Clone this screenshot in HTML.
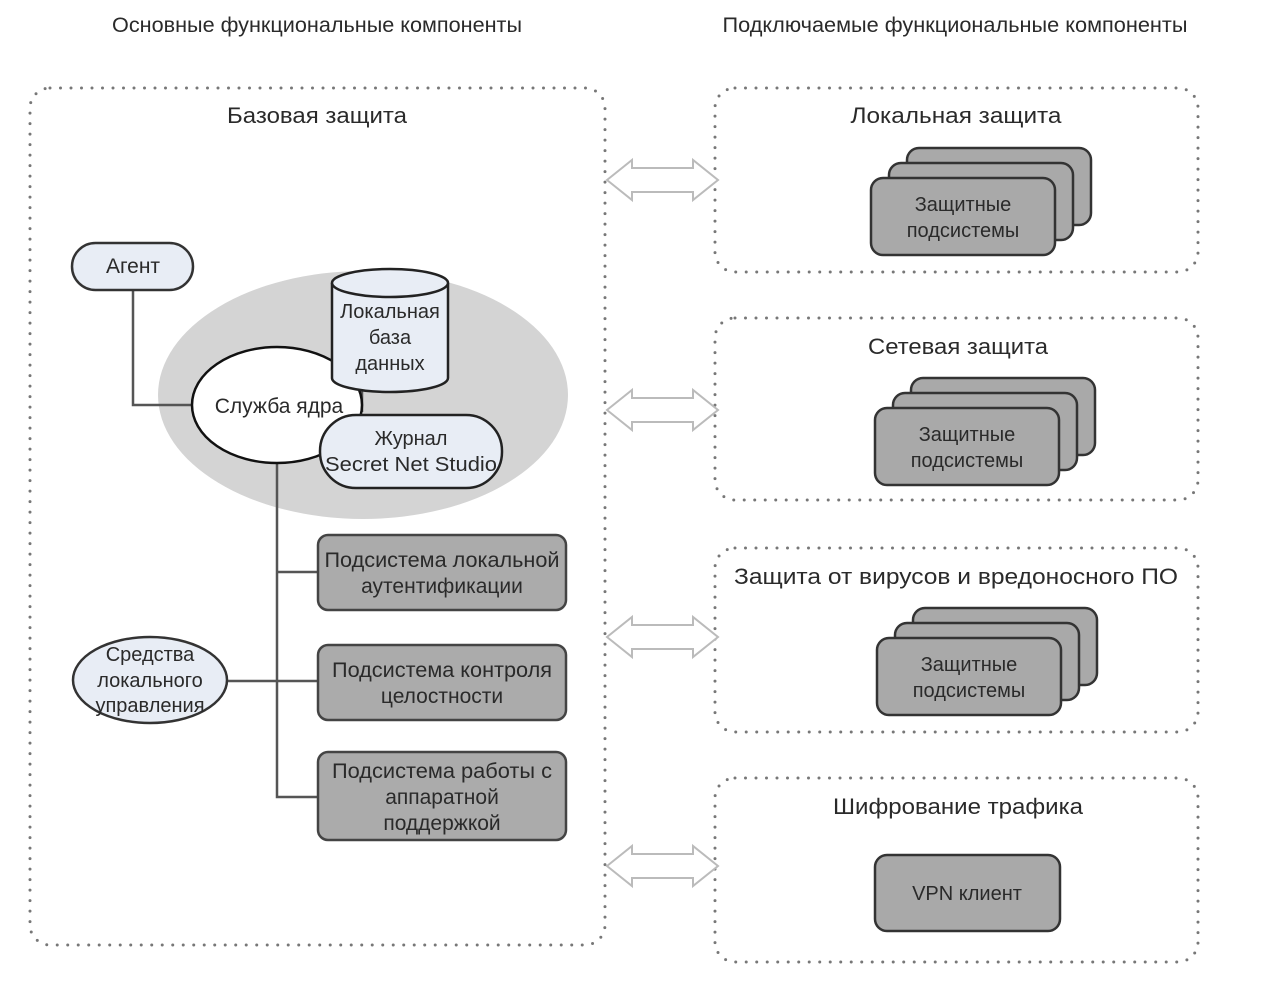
<!DOCTYPE html>
<html><head><meta charset="utf-8"><style>
html,body{margin:0;padding:0;background:#fff;}
svg{display:block;}
text{font-family:"Liberation Sans","DejaVu Sans",sans-serif;fill:#2a2a2a;text-anchor:middle;}
</style></head><body>
<svg width="1271" height="1000" viewBox="0 0 1271 1000" xmlns="http://www.w3.org/2000/svg">
<defs>
<g id="arr">
<path d="M0,0 L25,-20 L25,-12 L86,-12 L86,-20 L111,0 L86,20 L86,12 L25,12 L25,20 Z" fill="#fff" stroke="#bbb" stroke-width="2"/>
</g>
<g id="stack">
<rect x="36" y="-30" width="184" height="77" rx="12" fill="#a9a9a9" stroke="#333" stroke-width="2.5"/>
<rect x="18" y="-15" width="184" height="77" rx="12" fill="#a9a9a9" stroke="#333" stroke-width="2.5"/>
<rect x="0" y="0" width="184" height="77" rx="12" fill="#a9a9a9" stroke="#333" stroke-width="2.5"/>
<text x="92" y="33" font-size="20">Защитные</text>
<text x="92" y="59" font-size="20">подсистемы</text>
</g>
</defs>

<text x="317" y="32" font-size="21" fill="#444" textLength="410" lengthAdjust="spacingAndGlyphs">Основные функциональные компоненты</text>
<text x="955" y="32" font-size="21" fill="#444" textLength="465" lengthAdjust="spacingAndGlyphs">Подключаемые функциональные компоненты</text>

<g fill="none" stroke="#777" stroke-width="3" stroke-linecap="round" stroke-dasharray="0 10.5">
<rect x="30" y="88" width="575" height="857" rx="20"/>
<rect x="715" y="88" width="483" height="184" rx="20"/>
<rect x="715" y="318" width="483" height="182" rx="20"/>
<rect x="715" y="548" width="483" height="184" rx="20"/>
<rect x="715" y="778" width="483" height="184" rx="20"/>
</g>

<text x="317" y="123" font-size="22" textLength="180" lengthAdjust="spacingAndGlyphs">Базовая защита</text>
<text x="956" y="123" font-size="22" textLength="211" lengthAdjust="spacingAndGlyphs">Локальная защита</text>
<text x="958" y="354" font-size="22" textLength="180" lengthAdjust="spacingAndGlyphs">Сетевая защита</text>
<text x="956" y="584" font-size="22" textLength="444" lengthAdjust="spacingAndGlyphs">Защита от вирусов и вредоносного ПО</text>
<text x="958" y="814" font-size="22" textLength="250" lengthAdjust="spacingAndGlyphs">Шифрование трафика</text>

<use href="#arr" x="607" y="180"/>
<use href="#arr" x="607" y="410"/>
<use href="#arr" x="607" y="637"/>
<use href="#arr" x="607" y="866"/>

<use href="#stack" x="871" y="178"/>
<use href="#stack" x="875" y="408"/>
<use href="#stack" x="877" y="638"/>

<rect x="875" y="855" width="185" height="76" rx="12" fill="#a9a9a9" stroke="#333" stroke-width="2.5"/>
<text x="967" y="900" font-size="20">VPN клиент</text>

<!-- left -->
<ellipse cx="363" cy="395" rx="205" ry="124" fill="#d4d4d4"/>
<g stroke="#555" stroke-width="2.5" fill="none">
<polyline points="133,290 133,405 195,405"/>
<line x1="362" y1="385" x2="362" y2="412"/>
<polyline points="277,462 277,797 318,797"/>
<line x1="277" y1="572" x2="318" y2="572"/>
<line x1="227" y1="681" x2="318" y2="681"/>
</g>
<rect x="72" y="243" width="121" height="47" rx="23.5" fill="#e8edf5" stroke="#333" stroke-width="2.5"/>
<text x="133" y="273" font-size="21">Агент</text>

<ellipse cx="277" cy="405" rx="85" ry="58" fill="#fff" stroke="#111" stroke-width="2.5"/>
<text x="279" y="413" font-size="21">Служба ядра</text>

<path d="M332,283 L332,378 A58,14 0 0 0 448,378 L448,283" fill="#e8edf5" stroke="#222" stroke-width="2.5"/>
<ellipse cx="390" cy="283" rx="58" ry="14" fill="#e8edf5" stroke="#222" stroke-width="2.5"/>
<text x="390" y="318" font-size="20">Локальная</text>
<text x="390" y="344" font-size="20">база</text>
<text x="390" y="370" font-size="20">данных</text>

<rect x="320" y="415" width="182" height="73" rx="36" fill="#e8edf5" stroke="#222" stroke-width="2.5"/>
<text x="411" y="445" font-size="20">Журнал</text>
<text x="411" y="471" font-size="20" textLength="172" lengthAdjust="spacingAndGlyphs">Secret Net Studio</text>

<ellipse cx="150" cy="680" rx="77" ry="43" fill="#e8edf5" stroke="#333" stroke-width="2.5"/>
<text x="150" y="661" font-size="20">Средства</text>
<text x="150" y="687" font-size="20">локального</text>
<text x="150" y="712" font-size="20">управления</text>

<g fill="#ababab" stroke="#444" stroke-width="2.5">
<rect x="318" y="535" width="248" height="75" rx="10"/>
<rect x="318" y="645" width="248" height="75" rx="10"/>
<rect x="318" y="752" width="248" height="88" rx="10"/>
</g>
<text x="442" y="567" font-size="21" textLength="235" lengthAdjust="spacingAndGlyphs">Подсистема локальной</text>
<text x="442" y="593" font-size="21">аутентификации</text>
<text x="442" y="677" font-size="21" textLength="220" lengthAdjust="spacingAndGlyphs">Подсистема контроля</text>
<text x="442" y="703" font-size="21">целостности</text>
<text x="442" y="778" font-size="21" textLength="220" lengthAdjust="spacingAndGlyphs">Подсистема работы с</text>
<text x="442" y="804" font-size="21">аппаратной</text>
<text x="442" y="830" font-size="21">поддержкой</text>
</svg>
</body></html>
